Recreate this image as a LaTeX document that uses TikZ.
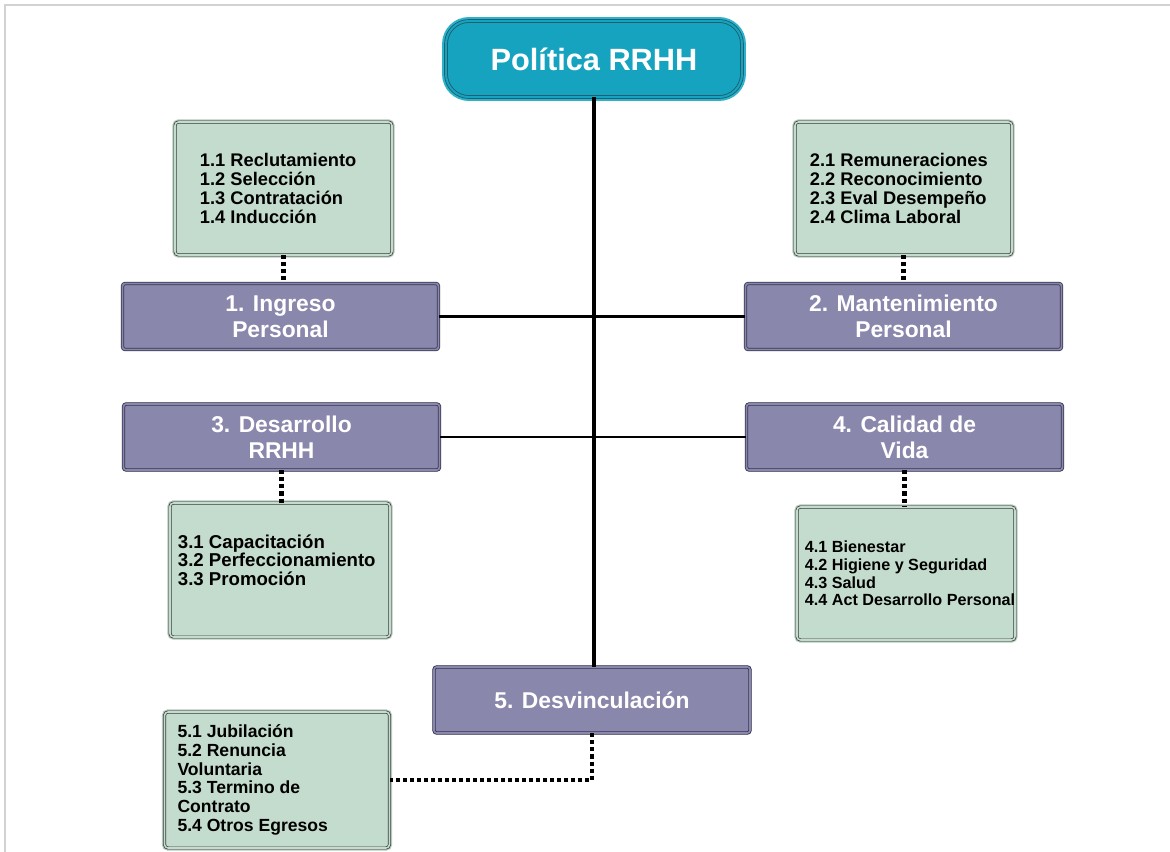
\documentclass[tikz,border=0pt]{standalone}
\usepackage{fontspec}
\setmainfont{Liberation Sans}
\usepackage{xcolor}
\usepackage{tikz}
\usetikzlibrary{calc,positioning}
\definecolor{tealc}{HTML}{16A3BF}
\definecolor{tealr}{HTML}{2CB2CA}
\definecolor{tealdk}{HTML}{1F5866}
\definecolor{purpc}{HTML}{8A87AD}
\definecolor{purpdk}{HTML}{33334D}
\definecolor{greenc}{HTML}{C4DCCD}
\definecolor{greenr}{HTML}{B3C9BB}
\definecolor{greendk}{HTML}{3A3A3A}
\definecolor{framec}{HTML}{D2D2D2}
\tikzset{
  titlebox/.style={fill=tealc,draw=tealdk,double=tealc,double distance=1.2pt,line width=0.45pt,
    rounded corners=13pt,minimum width=5.92cm,minimum height=1.52cm,
    preaction={draw=tealr,line width=4.5pt,rounded corners=14pt},
    text=white,font=\bfseries\fontsize{17.5}{20}\selectfont},
  pbox/.style={fill=purpc,draw=purpdk,double=purpc,double distance=1pt,line width=0.45pt,
    rounded corners=1.5pt,minimum width=6.32cm,minimum height=1.32cm,align=center,
    preaction={draw=purpc!75!gray,line width=1.6pt},
    text=white,font=\bfseries\fontsize{13}{14.8}\selectfont},
  gbox/.style={fill=greenc,draw=greendk,double=greenc,double distance=0.9pt,line width=0.4pt,
    rounded corners=2pt,preaction={draw=greenr,line width=3pt}},
  gtxt/.style={anchor=west,inner sep=0pt,align=left,font=\bfseries\fontsize{10.4}{10.8}\selectfont},
  mainln/.style={line width=2.8pt},
  subln/.style={line width=1.4pt},
  dots/.style={line width=2.6pt,dash pattern=on 2.3pt off 1.7pt}
}

\begin{document}
\begin{tikzpicture}[x=0.02cm,y=-0.02cm]
\useasboundingbox (0,0) rectangle (1170,852);
\fill[white] (0,0) rectangle (1170,852);
\draw[framec,line width=1.2pt] (5,852) -- (5,5) -- (1170,5);

% title and areas
\node[titlebox] (pol) at (594,59) {Política RRHH};
\node[pbox] (p1) at (280.5,316.5) {1. Ingreso\\Personal};
\node[pbox] (p2) at (903.5,316.5) {2. Mantenimiento\\Personal};
\node[pbox] (p3) at (281.5,437) {3. Desarrollo\\RRHH};
\node[pbox] (p4) at (904.5,437) {4. Calidad de\\Vida};
\node[pbox] (p5) at (592,700) {5. Desvinculación};

% sub-item boxes
\node[gbox,minimum width=4.34cm,minimum height=2.66cm] (g1) at (283.5,188.5) {};
\node[gbox,minimum width=4.34cm,minimum height=2.66cm] (g2) at (903.5,188.5) {};
\node[gbox,minimum width=4.4cm,minimum height=2.68cm] (g3) at (280,570) {};
\node[gbox,minimum width=4.36cm,minimum height=2.66cm] (g4) at (906,573.5) {};
\node[gbox,minimum width=4.5cm,minimum height=2.72cm] (g5) at (277,780) {};

\node[gtxt] (t1) at ([xshift=14.2pt]g1.west) {1.1 Reclutamiento\\1.2 Selección\\1.3 Contratación\\1.4 Inducción};
\node[gtxt] (t2) at ([xshift=8.5pt]g2.west) {2.1 Remuneraciones\\2.2 Reconocimiento\\2.3 Eval Desempeño\\2.4 Clima Laboral};
\node[gtxt,font=\bfseries\fontsize{10.6}{10.5}\selectfont] (t3) at ([xshift=4.5pt,yshift=5.7pt]g3.west) {3.1 Capacitación\\3.2 Perfeccionamiento\\3.3 Promoción};
\node[gtxt,font=\bfseries\fontsize{9.2}{10}\selectfont] (t4) at ([xshift=4.5pt]g4.west) {4.1 Bienestar\\4.2 Higiene y Seguridad\\4.3 Salud\\4.4 Act Desarrollo Personal};
\node[gtxt,font=\bfseries\fontsize{10}{10.7}\selectfont] (t5) at ([xshift=7.4pt]g5.west) {5.1 Jubilación\\5.2 Renuncia\\Voluntaria\\5.3 Termino de\\Contrato\\5.4 Otros Egresos};

% connectors
\draw[mainln] (pol.south) -- (pol.south |- p5.north);
\draw[subln] (p1.east) -- (p2.west);
\draw[subln] (p3.east) -- (p4.west);
\draw[dots] (g1.south) -- (g1.south |- p1.north);
\draw[dots] (g2.south) -- (g2.south |- p2.north);
\draw[dots] (p3.south) -- (p3.south |- g3.north);
\draw[dots] (p4.south) -- (p4.south |- g4.north);
\draw[dots] (p5.south) |- (g5.east);
\end{tikzpicture}
\end{document}
